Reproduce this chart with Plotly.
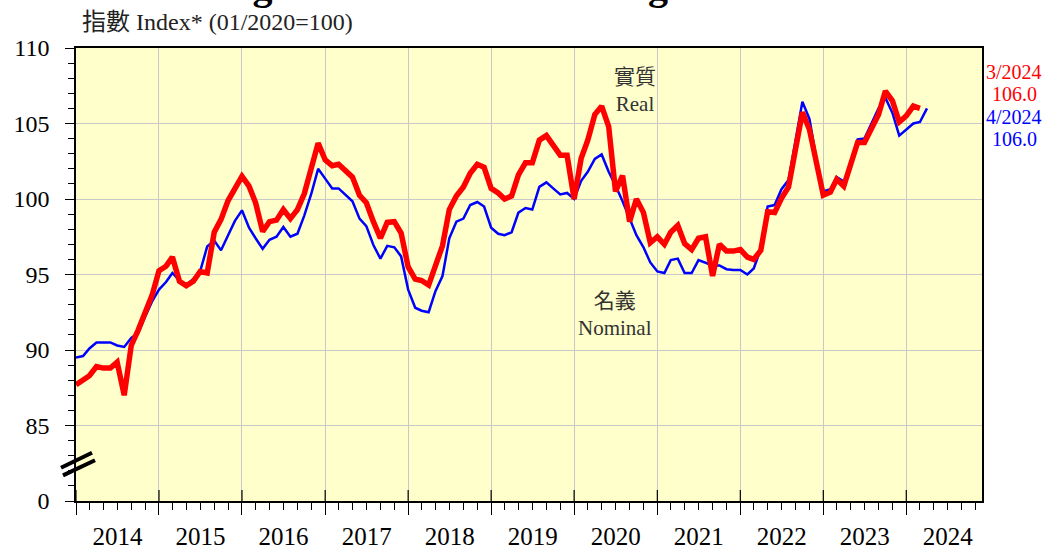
import pandas as pd
import plotly.graph_objects as go

# ---------------- data ----------------
start_month = "2014-01-01"
nominal = [
    89.5, 89.6, 90.1, 90.5, 90.5, 90.5, 90.3, 90.2, 90.8, 91.1, 92.2, 93.2,      # 2014
    94.0, 94.5, 95.1, 94.6, 94.3, 94.7, 95.2, 96.85, 97.25, 96.6, 97.6, 98.55,   # 2015
    99.25, 98.1, 97.4, 96.7, 97.3, 97.5, 98.15, 97.5, 97.7, 98.9, 100.35, 102.0, # 2016
    101.35, 100.7, 100.7, 100.3, 99.85, 98.7, 98.2, 96.95, 96.05, 96.9, 96.8, 96.2,  # 2017
    94.0, 92.8, 92.6, 92.5, 93.9, 94.9, 97.4, 98.5, 98.7, 99.6, 99.8, 99.5,      # 2018
    98.1, 97.7, 97.6, 97.8, 99.1, 99.4, 99.3, 100.8, 101.1, 100.7, 100.3, 100.4, # 2019
    100.0, 101.2, 101.8, 102.65, 102.95, 101.8, 100.9, 99.85, 98.75, 97.6, 96.8, 95.8,  # 2020
    95.2, 95.1, 95.95, 96.05, 95.1, 95.1, 95.95, 95.8, 95.6, 95.6, 95.35, 95.3,  # 2021
    95.3, 95.0, 95.4, 96.7, 99.5, 99.6, 100.65, 101.25, 103.8, 106.45, 105.3, 102.7,  # 2022
    100.5, 100.65, 101.45, 101.15, 102.15, 103.95, 104.0, 105.05, 106.0, 106.7, 105.7, 104.2,  # 2023
    104.6, 105.0, 105.1, 106.0,                                                  # 2024
]
real = [
    87.7, 88.0, 88.3, 88.9, 88.8, 88.8, 89.2, 87.0, 90.3, 91.3, 92.4, 93.6,      # 2014
    95.25, 95.55, 96.15, 94.55, 94.25, 94.55, 95.2, 95.1, 97.8, 98.65, 99.9, 100.75,  # 2015
    101.5, 100.85, 99.75, 97.85, 98.5, 98.6, 99.3, 98.7, 99.3, 100.35, 102.1, 103.7,  # 2016
    102.6, 102.2, 102.3, 101.9, 101.45, 100.25, 99.75, 98.5, 97.4, 98.45, 98.5, 97.75,  # 2017
    95.5, 94.7, 94.6, 94.3, 95.7, 96.9, 99.3, 100.2, 100.8, 101.7, 102.3, 102.1,  # 2018
    100.7, 100.4, 100.0, 100.2, 101.6, 102.4, 102.4, 103.9, 104.2, 103.5, 102.9, 102.9,  # 2019
    100.0, 102.7, 103.9, 105.6, 106.15, 104.8, 100.5, 101.55, 98.5, 100.0, 99.1, 97.1,  # 2020
    97.5, 97.0, 97.8, 98.25, 97.05, 96.65, 97.4, 97.5, 94.9, 97.0, 96.55, 96.55,  # 2021
    96.65, 96.15, 96.0, 96.6, 99.15, 99.1, 100.05, 100.8, 103.2, 105.75, 104.6, 102.35,  # 2022
    100.25, 100.45, 101.3, 100.85, 102.15, 103.75, 103.75, 104.65, 105.6, 107.15, 106.5, 105.1,  # 2023
    105.5, 106.15, 106.0,                                                        # 2024
]
years = list(range(2014, 2025))
y_tick_values = [80, 85, 90, 95, 100, 105, 110]
y_tick_labels = ["0", "85", "90", "95", "100", "105", "110"]
break_low, break_high = 82.2, 83.2
title_text = "Trade-Weighted Effective Exchange Rate Indices"
axis_title = "指數 Index* (01/2020=100)"
real_label = "實質<br>Real"
nominal_label = "名義<br>Nominal"
real_last = ("3/2024", "106.0")
nominal_last = ("4/2024", "106.0")

dates_nom = pd.date_range(start_month, periods=len(nominal), freq="MS")
dates_real = pd.date_range(start_month, periods=len(real), freq="MS")

SERIF = "Liberation Serif, 'Times New Roman', 'Noto Sans CJK TC', serif"
RED = "#ff0000"
BLUE = "#0000ff"
GRID = "#c8c8c8"

fig = go.Figure()
fig.add_trace(go.Scatter(x=dates_nom, y=nominal, mode="lines",
                         line=dict(color=BLUE, width=2.5), name="Nominal",
                         hoverinfo="skip"))
fig.add_trace(go.Scatter(x=dates_real, y=real, mode="lines",
                         line=dict(color=RED, width=5.5), name="Real",
                         hoverinfo="skip"))

W, H = 1045, 547
ml, mr, mt, mb = 76, 63, 48, 46
pw, ph = W - ml - mr, H - mt - mb


def px_x(p):
    return (p - ml) / pw


def px_y(p):
    return 1 + (mt - p) / ph


fig.update_layout(
    template="none",
    width=W, height=H,
    margin=dict(l=ml, r=mr, t=mt, b=mb, pad=0, autoexpand=False),
    paper_bgcolor="white",
    plot_bgcolor="#ffffcc",
    showlegend=False,
    font=dict(family=SERIF, color="black"),
)

fig.update_xaxes(
    type="date", automargin=False,
    range=["2014-01-01", "2024-11-29"],
    tick0=f"{years[0]}-01-01", dtick="M12",
    tickformat="%Y", ticklabelmode="period",
    ticks="outside", ticklen=12, tickwidth=1, tickcolor="black",
    tickfont=dict(size=25, family=SERIF, color="black"),
    ticklabelstandoff=0,
    showgrid=True, gridcolor=GRID, gridwidth=1.3,
    showline=True, linecolor="black", linewidth=1.5, mirror=True,
    minor=dict(dtick="M2", tick0=f"{years[0]}-01-01", ticks="outside",
               ticklen=7, tickcolor="black", tickwidth=1, showgrid=False),
    zeroline=False,
)
fig.update_yaxes(
    automargin=False,
    range=[80, 110],
    tickmode="array", tickvals=y_tick_values, ticktext=y_tick_labels,
    ticks="outside", ticklen=9, tickwidth=1, tickcolor="black",
    tickfont=dict(size=24, family=SERIF, color="black"),
    ticklabelstandoff=11,
    showgrid=True, gridcolor=GRID, gridwidth=1.3,
    showline=True, linecolor="black", linewidth=1.5, mirror=True,
    minor=dict(dtick=1, tick0=80, ticks="outside", ticklen=6,
               tickcolor="black", tickwidth=1, showgrid=False),
    zeroline=False,
)

shapes = []
# inside part of the yearly major ticks
for yr in years:
    shapes.append(dict(type="line", xref="x", yref="paper",
                       x0=f"{yr}-01-01", x1=f"{yr}-01-01",
                       y0=0, y1=11 / ph,
                       line=dict(color="black", width=1.2)))
# axis break marks
shapes.append(dict(type="line", xref="paper", yref="y",
                   x0=px_x(61), x1=px_x(92), y0=break_low, y1=break_high,
                   line=dict(color="black", width=4)))
shapes.append(dict(type="line", xref="paper", yref="y",
                   x0=px_x(63), x1=px_x(95), y0=break_low - 0.5, y1=break_high - 0.5,
                   line=dict(color="black", width=4)))
fig.update_layout(shapes=shapes)

ann = []
# cut-off title at top
ann.append(dict(text=f"<b>{title_text}</b>", xref="paper", yref="paper",
                x=px_x(69), y=px_y(9.6), xanchor="left", yanchor="bottom",
                showarrow=False, font=dict(size=40, family=SERIF, color="black")))
ann.append(dict(text=axis_title, xref="paper", yref="paper",
                x=px_x(80), y=px_y(22), xanchor="left", yanchor="middle",
                showarrow=False, font=dict(size=24, family=SERIF, color="#222222")))
ann.append(dict(text=real_label, xref="paper", yref="paper",
                x=px_x(635), y=px_y(90.5), xanchor="center", yanchor="middle",
                showarrow=False, font=dict(size=21, family=SERIF, color="#333333")))
ann.append(dict(text=nominal_label, xref="paper", yref="paper",
                x=px_x(614.5), y=px_y(314), xanchor="center", yanchor="middle",
                showarrow=False, font=dict(size=21, family=SERIF, color="#333333")))
for txt, yy, col in [(real_last[0], 72, RED), (real_last[1], 94, RED),
                     (nominal_last[0], 117, BLUE), (nominal_last[1], 139, BLUE)]:
    ann.append(dict(text=txt, xref="paper", yref="paper",
                    x=px_x(1014), y=px_y(yy), xanchor="center", yanchor="middle",
                    showarrow=False, font=dict(size=20, family=SERIF, color=col)))
fig.update_layout(annotations=ann)

fig.write_html(
    "out.html",
    config={"displayModeBar": False},
    post_script="document.body.style.margin='0';document.body.style.overflow='hidden';",
)
